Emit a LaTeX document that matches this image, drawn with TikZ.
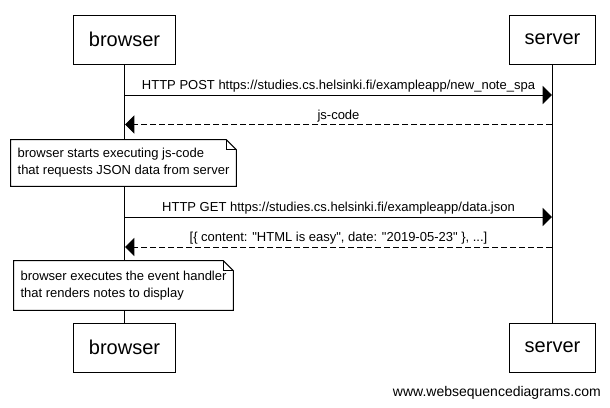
\documentclass[tikz,border=0pt]{standalone}
\usepackage{fontspec}
\setmainfont{Liberation Sans}[Ligatures=TeXOff]
\usetikzlibrary{arrows.meta,calc}
\tikzstyle{actor}=[draw,line width=0.75pt,fill=white,minimum height=36.75pt,inner xsep=11.25pt,font=\fontsize{15}{18}\selectfont]
\tikzstyle{note}=[fill=white,align=left,inner xsep=5pt,font=\fontsize{9.75}{12.75}\selectfont]
\tikzstyle{call}=[line width=0.75pt,-{Triangle[length=7pt,width=13.5pt]}]
\tikzstyle{reply}=[call,dash pattern=on 4.5pt off 2.25pt]
\tikzstyle{msg}=[anchor=south,inner sep=1.5pt,font=\fontsize{9.75}{11}\selectfont]
\begin{document}
\begin{tikzpicture}[x=0.75pt,y=-0.75pt]
\useasboundingbox (0,0) rectangle (610,407);
\node[actor] at (124.5, 39.5) (bt) {browser};
\node[actor] at (552.5, 39.5) (st) {server};
\node[actor] at (124.5, 347.5) (bb) {browser};
\node[actor] at (552.5, 347.5) (sb) {server};
\draw[line width=0.75pt] (bt) -- (bb);
\draw[line width=0.75pt] (st) -- (sb);
% message points on the lifelines
\coordinate (b1) at (125, 95);  \coordinate (s1) at (552, 95);
\coordinate (b2) at (125, 124.5); \coordinate (s2) at (552, 124.5);
\coordinate (b3) at (125, 217); \coordinate (s3) at (552, 217);
\coordinate (b4) at (125, 247); \coordinate (s4) at (552, 247);
\draw[call] (b1) -- node[msg] {HTTP POST https://studies.cs.helsinki.fi/exampleapp/new\_note\_spa} (s1);
\draw[reply] (s2) -- node[msg] {js-code} (b2);
\draw[call] (b3) -- node[msg] {HTTP GET https://studies.cs.helsinki.fi/exampleapp/data.json} (s3);
\draw[reply] (s4) -- node[msg] {[\{ content: "HTML is easy", date: "2019-05-23" \}, ...]} (b4);
\node[note,minimum height=34.5pt] at (123.5, 163) (n1) {browser starts executing js-code\\that requests JSON data from server};
\node[note,minimum height=36.75pt] at (123.5, 285.5) (n2) {browser executes the event handler\\that renders notes to display};
\foreach \n in {n1,n2} {
  \draw[line width=0.75pt] (\n.north west) -- ($(\n.north east)+(-10,0)$) -- ($(\n.north east)+(0,10)$) -- (\n.south east) -- (\n.south west) -- cycle;
  \draw[line width=0.75pt] ($(\n.north east)+(-10,0)$) |- ($(\n.north east)+(0,10)$);
}
\node[anchor=base east,inner sep=0pt,font=\fontsize{10.5}{12}\selectfont] at (601, 396) (wsd) {www.websequencediagrams.com};
\end{tikzpicture}
\end{document}
